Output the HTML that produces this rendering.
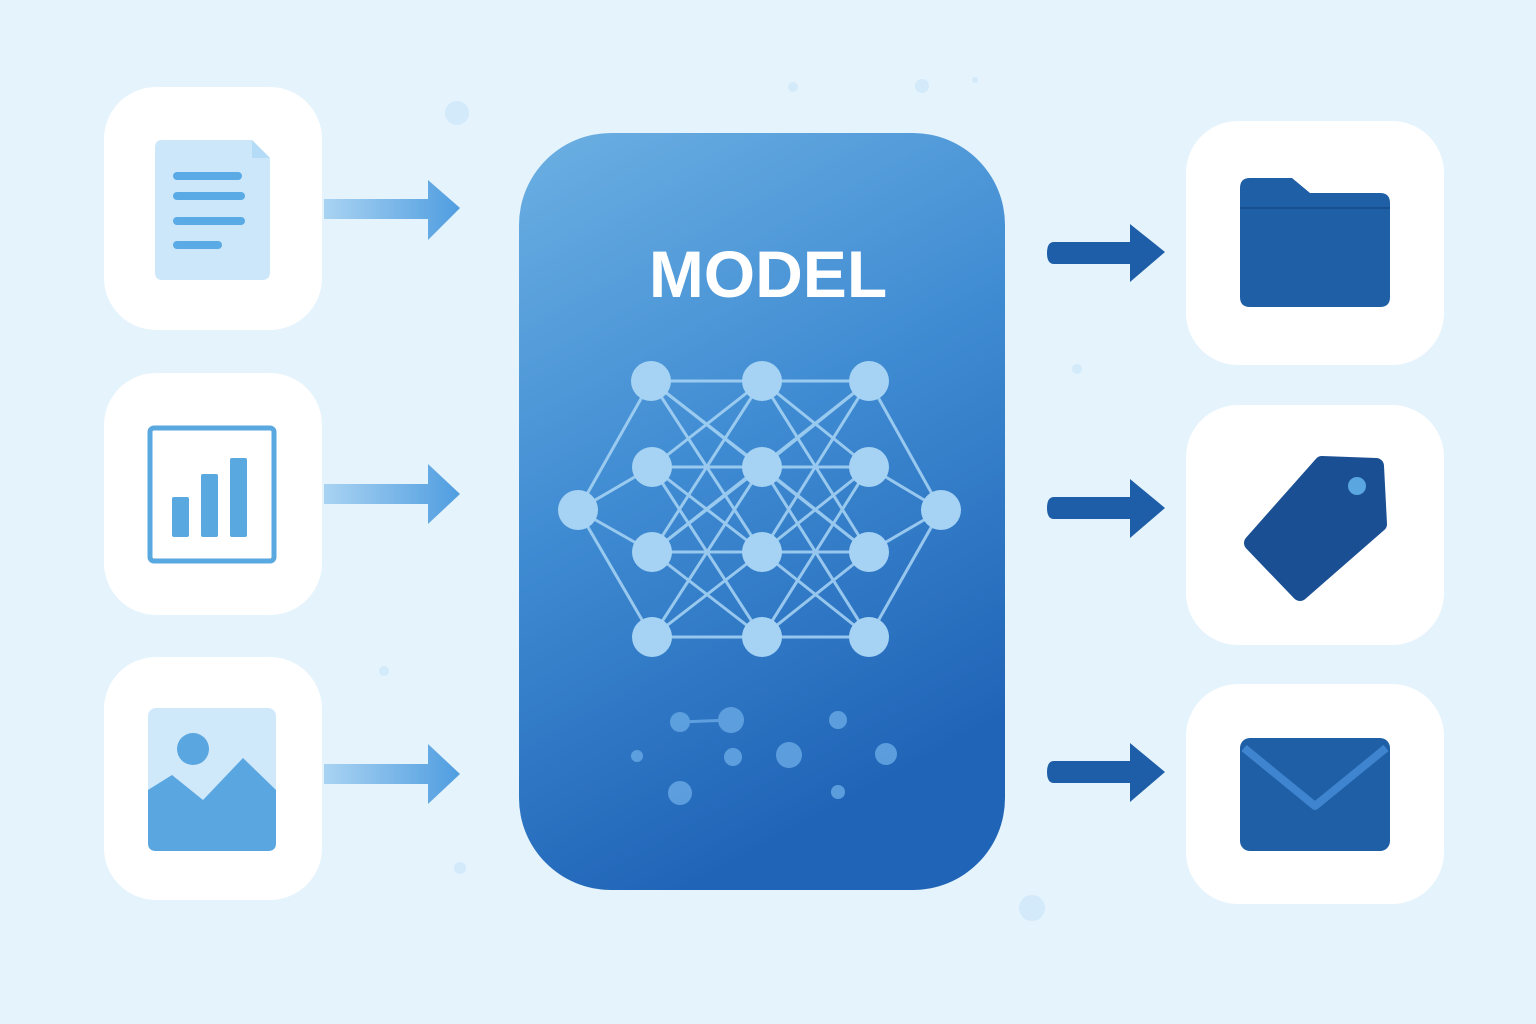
<!DOCTYPE html>
<html><head><meta charset="utf-8"><style>
html,body{margin:0;padding:0;background:#e5f3fc;}
svg{display:block}
</style></head><body>
<svg width="1536" height="1024" viewBox="0 0 1536 1024" xmlns="http://www.w3.org/2000/svg">
<defs>
<linearGradient id="mg" x1="0" y1="0" x2="0.35" y2="1">
<stop offset="0" stop-color="#6cb0e3"/><stop offset="0.5" stop-color="#3f8bd2"/><stop offset="1" stop-color="#2064b7"/>
</linearGradient>
<linearGradient id="la" x1="0" y1="0" x2="1" y2="0">
<stop offset="0" stop-color="#a9d3f2"/><stop offset="1" stop-color="#4f9de0"/>
</linearGradient>
</defs>
<rect width="1536" height="1024" fill="#e5f3fc"/>
<g fill="#d3eafa">
<circle cx="457" cy="113" r="12"/><circle cx="922" cy="86" r="7"/><circle cx="793" cy="87" r="5"/><circle cx="1077" cy="369" r="5"/><circle cx="384" cy="671" r="5"/><circle cx="460" cy="868" r="6"/><circle cx="1032" cy="908" r="13"/><circle cx="975" cy="80" r="3"/>
</g>
<g fill="#fff">
<rect x="104" y="87" width="218" height="243" rx="52"/>
<rect x="104" y="373" width="218" height="242" rx="52"/>
<rect x="104" y="657" width="218" height="243" rx="52"/>
<rect x="1186" y="121" width="258" height="244" rx="52"/>
<rect x="1186" y="405" width="258" height="240" rx="52"/>
<rect x="1186" y="684" width="258" height="220" rx="52"/>
</g>
<path d="M162 140 H252 L270 158 V272 Q270 280 262 280 H162 Q155 280 155 272 V148 Q155 140 162 140Z" fill="#cce7fa"/>
<path d="M252 140 V158 H270Z" fill="#b5dcf7"/>
<g stroke="#5aaae6" stroke-width="8" stroke-linecap="round">
<line x1="177" y1="176" x2="238" y2="176"/><line x1="177" y1="196" x2="241" y2="196"/><line x1="177" y1="221" x2="241" y2="221"/><line x1="177" y1="245" x2="218" y2="245"/>
</g>
<rect x="150" y="428" width="124" height="133" rx="4" fill="none" stroke="#5aa8e0" stroke-width="5"/>
<g fill="#5aa8e0"><rect x="172" y="497" width="17" height="40" rx="2"/><rect x="201" y="474" width="17" height="63" rx="2"/><rect x="230" y="458" width="17" height="79" rx="2"/></g>
<rect x="148" y="708" width="128" height="143" rx="8" fill="#cfe8fa"/>
<circle cx="193" cy="749" r="16" fill="#5aa6e0"/>
<path d="M148 790 L172 775 L203 800 L243 758 L276 790 V843 Q276 851 268 851 H156 Q148 851 148 843Z" fill="#5aa6e0"/>
<g fill="url(#la)">
<path d="M324 199 H428 V180 L460 208 L428 240 V219 H324Z"/>
<path d="M324 484 H428 V464 L460 494 L428 524 V504 H324Z"/>
<path d="M324 764 H428 V744 L460 774 L428 804 V784 H324Z"/>
</g>
<rect x="519" y="133" width="486" height="757" rx="92" fill="url(#mg)"/>
<text x="768" y="297" text-anchor="middle" font-family="Liberation Sans, sans-serif" font-weight="bold" font-size="66" fill="#fff">MODEL</text>
<g stroke="#a9d5f5" stroke-width="3" opacity="0.85">
<line x1="651" y1="381" x2="869" y2="381"/><line x1="652" y1="467" x2="869" y2="467"/><line x1="652" y1="552" x2="869" y2="552"/><line x1="652" y1="637" x2="869" y2="637"/>
<line x1="578" y1="510" x2="651" y2="381"/><line x1="578" y1="510" x2="652" y2="467"/><line x1="578" y1="510" x2="652" y2="552"/><line x1="578" y1="510" x2="652" y2="637"/>
<line x1="941" y1="510" x2="869" y2="381"/><line x1="941" y1="510" x2="869" y2="467"/><line x1="941" y1="510" x2="869" y2="552"/><line x1="941" y1="510" x2="869" y2="637"/>
<line x1="651" y1="381" x2="762" y2="467"/><line x1="651" y1="381" x2="762" y2="552"/><line x1="762" y1="381" x2="652" y2="467"/><line x1="762" y1="381" x2="869" y2="467"/>
<line x1="762" y1="381" x2="652" y2="552"/><line x1="762" y1="381" x2="869" y2="552"/><line x1="869" y1="381" x2="762" y2="467"/><line x1="869" y1="381" x2="762" y2="552"/>
<line x1="652" y1="467" x2="762" y2="552"/><line x1="652" y1="467" x2="762" y2="637"/><line x1="762" y1="467" x2="652" y2="552"/><line x1="762" y1="467" x2="869" y2="552"/>
<line x1="762" y1="467" x2="652" y2="637"/><line x1="762" y1="467" x2="869" y2="637"/><line x1="869" y1="467" x2="762" y2="552"/><line x1="869" y1="467" x2="762" y2="637"/>
<line x1="652" y1="552" x2="762" y2="637"/><line x1="762" y1="552" x2="652" y2="637"/><line x1="762" y1="552" x2="869" y2="637"/><line x1="869" y1="552" x2="762" y2="637"/>
<line x1="651" y1="381" x2="869" y2="552"/><line x1="869" y1="381" x2="652" y2="552"/>
</g>
<g fill="#a6d3f4">
<circle cx="651" cy="381" r="20"/><circle cx="762" cy="381" r="20"/><circle cx="869" cy="381" r="20"/>
<circle cx="652" cy="467" r="20"/><circle cx="762" cy="467" r="20"/><circle cx="869" cy="467" r="20"/>
<circle cx="578" cy="510" r="20"/><circle cx="941" cy="510" r="20"/>
<circle cx="652" cy="552" r="20"/><circle cx="762" cy="552" r="20"/><circle cx="869" cy="552" r="20"/>
<circle cx="652" cy="637" r="20"/><circle cx="762" cy="637" r="20"/><circle cx="869" cy="637" r="20"/>
</g>
<g fill="#6aabe6" opacity="0.8">
<line x1="680" y1="722" x2="731" y2="720" stroke="#6aabe6" stroke-width="3"/>
<circle cx="680" cy="722" r="10"/><circle cx="731" cy="720" r="13"/><circle cx="838" cy="720" r="9"/>
<circle cx="637" cy="756" r="6"/><circle cx="733" cy="757" r="9"/><circle cx="789" cy="755" r="13"/><circle cx="886" cy="754" r="11"/>
<circle cx="680" cy="793" r="12"/><circle cx="838" cy="792" r="7"/>
</g>
<g fill="#1e5ea8">
<path d="M1054 242 H1130 V224 L1165 252 L1130 282 V264 H1054 Q1047 264 1047 253 Q1047 242 1054 242Z"/>
<path d="M1054 497 H1130 V479 L1165 508 L1130 538 V519 H1054 Q1047 519 1047 508 Q1047 497 1054 497Z"/>
<path d="M1054 761 H1130 V743 L1165 772 L1130 802 V783 H1054 Q1047 783 1047 772 Q1047 761 1054 761Z"/>
</g>
<path d="M1250 178 H1292 L1310 193 H1380 Q1390 193 1390 203 V297 Q1390 307 1380 307 H1250 Q1240 307 1240 297 V188 Q1240 178 1250 178Z" fill="#1f5fa6"/>
<line x1="1240" y1="208" x2="1390" y2="208" stroke="#184f8f" stroke-width="2"/>
<polygon points="1322,464 1376,466 1379,524 1300,593 1252,543" fill="#1a4f93" stroke="#1a4f93" stroke-width="16" stroke-linejoin="round"/>
<circle cx="1357" cy="486" r="9" fill="#5aa6e0"/>
<rect x="1240" y="738" width="150" height="113" rx="10" fill="#1f5fa6"/>
<path d="M1244 748 L1315 806 L1386 748" fill="none" stroke="#3f84cf" stroke-width="8" stroke-linejoin="round"/>
</svg>
</body></html>
